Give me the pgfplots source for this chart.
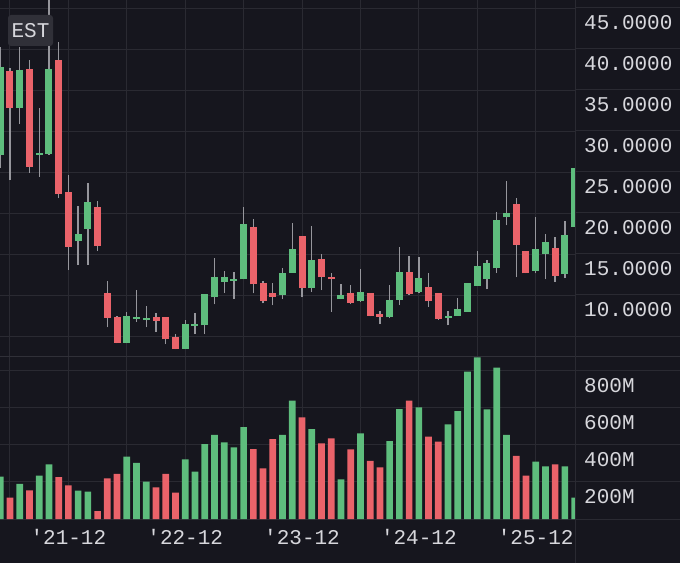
\documentclass[border=0pt]{standalone}
\usepackage{fontspec}
\setmonofont{Liberation Mono}
\usepackage{pgfplots}
\pgfplotsset{compat=1.18}
\usepackage{pgfplotstable}

\definecolor{bgc}{RGB}{22,22,30}
\definecolor{gridc}{RGB}{42,42,50}
\definecolor{sepc}{RGB}{48,48,56}
\definecolor{upc}{RGB}{94,189,125}
\definecolor{downc}{RGB}{234,99,106}
\definecolor{wickc}{RGB}{150,150,156}
\definecolor{labc}{RGB}{215,215,220}
\definecolor{estbg}{RGB}{48,48,56}

% monthly candles, k = months after 2021-12
\pgfplotstableread{
k o h l c v
-7 27.07 40.3 25.5 37.84 228
-5 32.84 40.3 30.85 37.4 189
-3 27.1 32.84 24.4 27.35 234
-2 27.2 47 27.1 37.52 295
1 16.55 20.85 13.66 17.4 153
2 18.09 23.7 13.66 21.34 147
6 4.18 7.97 4.1 7.48 336
7 7.1 10.6 6.74 7.35 302
8 6.99 8.7 6.06 7.23 201
12 3.45 6.95 3.4 6.46 322
13 6.22 7.84 5.24 6.46 255
14 6.3 10.16 5.24 10.16 404
15 9.72 14.48 8.87 12.16 454
16 11.59 12.96 10.3 12.16 413
17 11.75 12.77 9.5 11.99 386
18 11.9 20.7 11.9 18.66 496
22 10.0 13.33 9.48 12.68 454
23 12.7 18.77 12.7 15.6 638
25 10.8 18.41 10.4 14.27 485
28 9.48 11.34 9.48 9.96 214
30 9.3 13.13 9.2 10.33 462
33 7.28 11.26 7.15 9.39 420
34 9.39 15.89 8.78 12.8 593
36 10.4 14.6 10.2 12.04 602
39 7.2 8.09 6.3 7.44 510
40 7.44 9.6 7.44 8.26 582
41 7.97 11.5 7.97 11.5 794
42 11.1 15.4 11.1 13.55 872
43 11.93 14.25 10.7 13.9 591
44 13.26 20.16 12.7 19.15 816
45 19.48 23.94 18.5 19.96 453
48 12.96 19.47 12.65 15.6 309
49 15.04 17.44 11.91 16.43 284
51 12.56 19.06 12.04 17.35 284
52 18.33 25.45 18.33 25.45 115
}\up

\pgfplotstableread{
k o h l c v
-6 37.32 37.65 24.0 32.84 115
-4 37.52 38.66 24.9 25.65 155
-1 38.66 40.9 21.8 22.3 226
0 22.56 24.63 13.05 15.9 181
3 20.75 21.43 15.4 15.95 43
4 10.2 11.7 6.06 7.23 219
5 7.35 7.4 4.1 4.18 243
9 7.3 7.84 5.52 6.87 171
10 7.3 7.35 4.0 4.6 243
11 4.88 5.2 3.38 3.4 142
19 18.26 19.23 10.2 11.3 377
20 11.5 11.7 8.98 9.3 273
21 10.2 11.43 8.74 9.8 431
24 17.23 17.25 9.72 10.8 548
26 14.43 15.0 10.6 12.16 408
27 12.23 12.65 7.93 11.91 435
29 10.2 11.22 8.9 9.06 376
31 10.28 10.3 7.4 7.44 313
32 7.65 8.09 6.46 7.35 279
35 12.77 14.76 10.0 10.12 638
37 11.01 12.65 8.57 9.23 444
38 10.2 10.22 7.0 7.11 417
46 21.06 21.87 12.16 16.1 340
47 15.37 15.4 12.65 12.65 234
50 15.77 17.04 11.62 12.32 295
}\down

\pgfplotsset{
  base/.style={
    scale only axis, width=575pt,
    xmin=-7.026, xmax=52.04,
    axis line style={draw=none},
    major tick length=0pt,
    xmajorgrids, ymajorgrids,
    major grid style={draw=gridc, line width=1pt},
    xtick={-6,0,...,48},
    yticklabel pos=right,
    tick label style={font=\ttfamily\fontsize{21}{24}\selectfont, text=labc},
    yticklabel style={anchor=west, inner sep=0pt, xshift=9pt, yshift=-15pt},
  },
  wick/.style={draw=none, forget plot, error bars/.cd, y dir=plus, y explicit,
    error mark=none, error bar style={line width=1.3pt, draw=wickc}},
  body/.style={draw=none, forget plot, error bars/.cd, y dir=plus, y explicit,
    error mark=none, error bar style={line width=7pt, draw=#1}},
}

\begin{document}
\begin{tikzpicture}
\useasboundingbox (0,0) rectangle (680pt,563pt);
\fill[bgc] (0,0) rectangle (680pt,563pt);

% price pane
\begin{axis}[base,
  at={(0pt,206.3pt)}, anchor=south west, height=356.7pt,
  ymin=2.476, ymax=45.976,
  ytick={5,10,...,45},
  yticklabels={,10.0000,15.0000,20.0000,25.0000,30.0000,35.0000,40.0000,45.0000},
  xticklabels={,,,,,,,,,},
]
\addplot[wick] table[x=k, y=l, y error expr=\thisrow{h}-\thisrow{l}] {\up};
\addplot[wick] table[x=k, y=l, y error expr=\thisrow{h}-\thisrow{l}] {\down};
\addplot[body=upc] table[x=k, y=o, y error expr=\thisrow{c}-\thisrow{o}] {\up};
\addplot[body=downc] table[x=k, y=c, y error expr=\thisrow{o}-\thisrow{c}] {\down};
\end{axis}

% volume pane
\begin{axis}[base,
  at={(0pt,44pt)}, anchor=south west, height=162.3pt,
  ymin=0, ymax=875,
  ytick={0,200,...,800},
  yticklabels={,200M,400M,600M,800M},
  xticklabels={,'21-12,,'22-12,,'23-12,,'24-12,,'25-12},
  xticklabel style={anchor=center, yshift=-17.7pt},
]
\addplot[ybar, bar width=6.7pt, bar shift=0pt, fill=upc, draw=none] table[x=k, y=v] {\up};
\addplot[ybar, bar width=6.7pt, bar shift=0pt, fill=downc, draw=none] table[x=k, y=v] {\down};
\end{axis}

% grid extensions into the scale area and pane separators
\foreach \yy in {227,268,309,350,391,432,473,514,555,44,81.1,118.2,155.3,192.4}
  \draw[gridc, line width=1pt] (575pt,\yy pt) -- (680pt,\yy pt);
\draw[sepc, line width=1.2pt] (0pt,206.3pt) -- (680pt,206.3pt);
\draw[gridc, line width=1pt] (575pt,0pt) -- (575pt,563pt);

% timezone badge
\fill[estbg, rounded corners=3pt] (8pt,517pt) rectangle (53pt,548pt);
\node[text=labc, font=\ttfamily\fontsize{21}{24}\selectfont, inner sep=0pt] at (30.5pt,532.5pt) {EST};
\end{tikzpicture}
\end{document}
